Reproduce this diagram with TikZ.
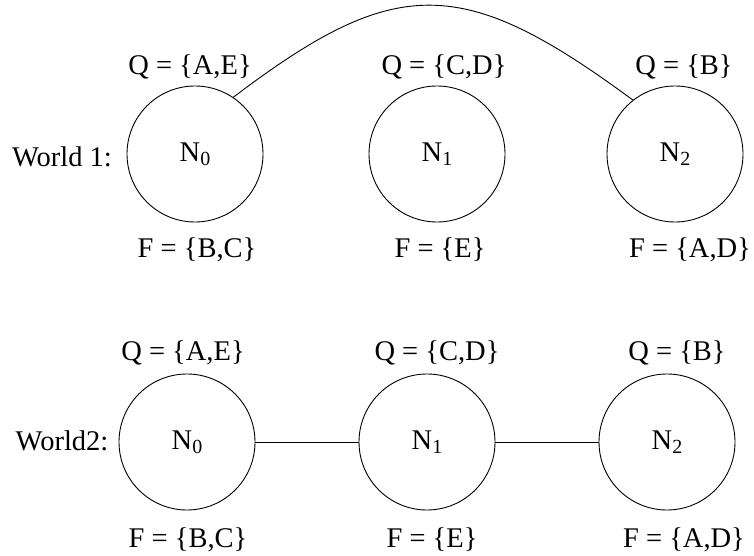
\documentclass[tikz,border=0pt]{standalone}
\usepackage{fontspec}
\setmainfont{Liberation Serif}
\newcommand{\subidx}[1]{\raisebox{-0.3ex}{\fontsize{20}{24}\selectfont #1}}
\begin{document}
\begin{tikzpicture}[x=1pt,y=-1pt,
  every node/.style={font=\fontsize{28.5}{34}\selectfont, inner sep=0pt},
  netnode/.style={circle, draw, line width=0.9pt, minimum size=136pt},
  link/.style={line width=0.9pt}]
\useasboundingbox (0,0) rectangle (754,556);
% World 1
\node at (62,157) (w1) {World 1:};
\node[netnode] (a0) at (195,154) {N\subidx{0}};
\node[netnode] (a1) at (437,154) {N\subidx{1}};
\node[netnode] (a2) at (675,154) {N\subidx{2}};
\node (qa0) at (190,67) {Q = \{A,E\}};
\node (qa1) at (444,67) {Q = \{C,D\}};
\node (qa2) at (684,67) {Q = \{B\}};
\node (fa0) at (197,250) {F = \{B,C\}};
\node (fa1) at (440,250) {F = \{E\}};
\node (fa2) at (690,250) {F = \{A,D\}};
\draw[link] (a0.56) .. controls (396,-26) and (462,-26) .. (a2.128);
% World 2
\node at (62,441) (w2) {World2:};
\node[netnode] (b0) at (187,442) {N\subidx{0}};
\node[netnode] (b1) at (427,442) {N\subidx{1}};
\node[netnode] (b2) at (667,442) {N\subidx{2}};
\node (qb0) at (183,353) {Q = \{A,E\}};
\node (qb1) at (437,353) {Q = \{C,D\}};
\node (qb2) at (677,353) {Q = \{B\}};
\node (fb0) at (188,540) {F = \{B,C\}};
\node (fb1) at (432,540) {F = \{E\}};
\node (fb2) at (684,540) {F = \{A,D\}};
\draw[link] (b0) -- (b1);
\draw[link] (b1) -- (b2);
\end{tikzpicture}
\end{document}
